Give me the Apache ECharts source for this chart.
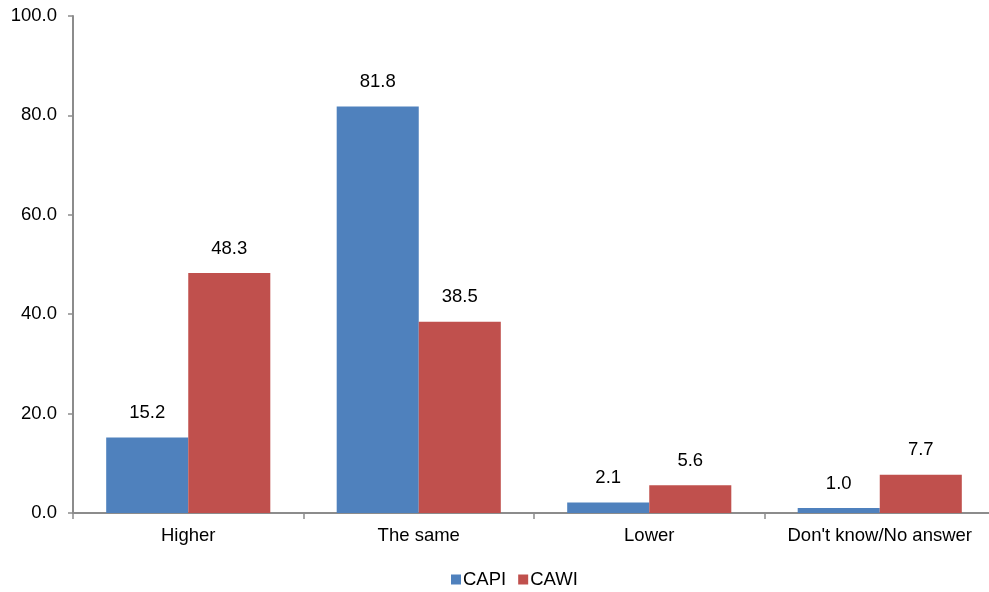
<!DOCTYPE html>
<html><head><meta charset="utf-8">
<script src="https://cdn.jsdelivr.net/npm/echarts@6/dist/echarts.min.js"></script>
<style>html,body{margin:0;padding:0;background:#fff;overflow:hidden}#c{width:996px;height:592px}</style>
</head><body><div id="c"></div>
<script>
const categories = ["Higher", "The same", "Lower", "Don't know/No answer"];
const capi = [15.2, 81.8, 2.1, 1.0];
const cawi = [48.3, 38.5, 5.6, 7.7];
const yTicks = [0, 20, 40, 60, 80, 100];

const font = "Liberation Sans, Arial, sans-serif";
const fs = 18.5;
const chart = echarts.init(document.getElementById('c'));
const lbl = {show: true, position: 'top', distance: 15, color: '#000', fontSize: fs, fontFamily: font,
  formatter: p => p.value.toFixed(1)};
chart.setOption({
  animation: false,
  grid: {left: 73, right: 1, top: 16, bottom: 79, containLabel: false},
  legend: {top: 565, left: 446, itemWidth: 10, itemHeight: 10, itemGap: 12, icon: 'rect',
    textStyle: {fontSize: fs, fontFamily: font, color: '#000', padding: [0,0,0,-3]},
    data: ['CAPI', 'CAWI']},
  xAxis: {type: 'category', data: categories,
    axisLine: {lineStyle: {color: '#8c8c8c', width: 2}},
    axisTick: {show: true, length: 6, lineStyle: {color: '#8c8c8c', width: 1.5}},
    axisLabel: {interval: 0, fontSize: fs, fontFamily: font, color: '#000', margin: 13}},
  yAxis: {type: 'value', min: yTicks[0], max: yTicks[yTicks.length-1], interval: 20,
    axisLine: {show: true, lineStyle: {color: '#8c8c8c', width: 2}},
    axisTick: {show: true, length: 5, lineStyle: {color: '#8c8c8c', width: 1.5}},
    splitLine: {show: false},
    axisLabel: {fontSize: fs, fontFamily: font, color: '#000', margin: 16, formatter: v => v.toFixed(1)}},
  series: [
    {name: 'CAPI', type: 'bar', data: capi, barWidth: '35.6%', barGap: '0%', itemStyle: {color: '#4F81BD'}, label: lbl},
    {name: 'CAWI', type: 'bar', data: cawi, barWidth: '35.6%', barGap: '0%', itemStyle: {color: '#C0504D'}, label: lbl}
  ]
});
</script></body></html>
